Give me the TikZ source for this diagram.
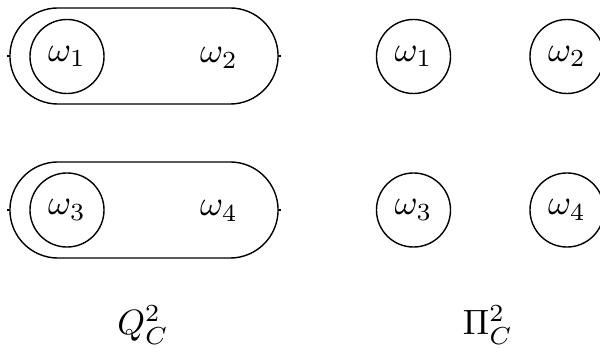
\documentclass[tikz,border=0pt]{standalone}
\usetikzlibrary{shapes.misc}
\begin{document}
\begin{tikzpicture}
[
	x=0.01cm, y=-0.01cm,
	world/.style={circle,draw,thin,inner sep=0pt,minimum size=0.74cm},
	cluster/.style={rounded rectangle,draw,thin,inner sep=0pt,minimum width=2.68cm,minimum height=0.96cm},
]
	\useasboundingbox (0,0) rectangle (600,349);

	% partition Q
	\node[cluster] at (144,56) (topcl) {};
	\node[cluster] at (144,210) (botcl) {};
	\draw[thin] (topcl.west) -- ++(-2,0);
	\draw[thin] (topcl.east) -- ++(2,0);
	\draw[thin] (botcl.west) -- ++(-2,0);
	\draw[thin] (botcl.east) -- ++(2,0);

	\node[world] at (67,56.5) (qw1) {$\omega_1$};
	\node at (219,58) (qw2) {$\omega_2$};
	\node[world] at (67,210) (qw3) {$\omega_3$};
	\node at (219,211) (qw4) {$\omega_4$};

	% partition Pi
	\node[world] at (413.5,56.5) (pw1) {$\omega_1$};
	\node[world] at (567,56.5) (pw2) {$\omega_2$};
	\node[world] at (413.5,210) (pw3) {$\omega_3$};
	\node[world] at (567,210) (pw4) {$\omega_4$};

	% labels
	\node at (143,325) (qlab) {$Q^2_C$};
	\node at (488,325) (pilab) {$\Pi^2_C$};

\end{tikzpicture}
\end{document}
